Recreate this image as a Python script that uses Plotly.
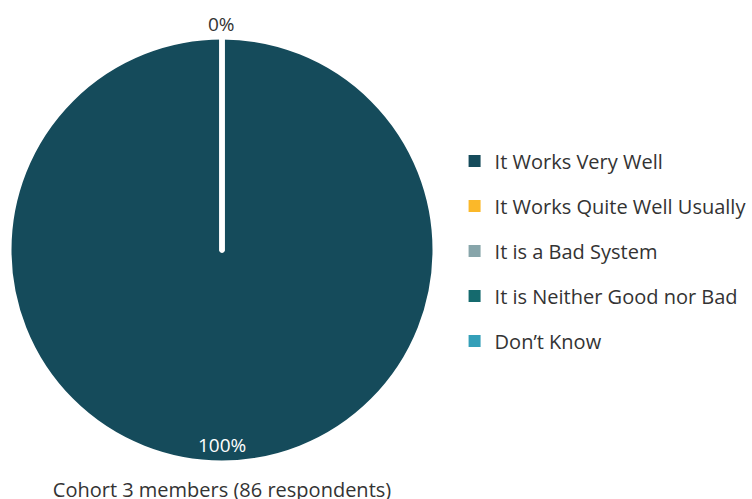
import plotly.graph_objects as go

labels = ["It Works Very Well", "It Works Quite Well Usually", "It is a Bad System",
          "It is Neither Good nor Bad", "Don’t Know"]
values = [86, 0, 0, 0, 0]
colors = ["#154B5B", "#FBB829", "#87A5AA", "#156A6E", "#349FB8"]
title_text = "Cohort 3 members (86 respondents)"

FONT = "Open Sans"
total = sum(values)
pcts = [f"{round(v / total * 100)}%" for v in values]

dom_x = [8/752, 436/752]
dom_y = [36/499, 462/499]
cx = (dom_x[0] + dom_x[1]) / 2

fig = go.Figure()
fig.add_trace(go.Pie(
    labels=labels, values=values, sort=False, direction="clockwise", rotation=0,
    marker=dict(colors=colors, line=dict(color="white", width=5)),
    textinfo="none",
    domain=dict(x=dom_x, y=dom_y),
    showlegend=False,
))
for lab, col in zip(labels, colors):
    fig.add_trace(go.Scatter(
        x=[None], y=[None], mode="markers", name=lab, legendgroup=lab,
        marker=dict(symbol="square", size=12, color=col),
    ))

annotations = [
    # label of the zero slices (outside, at the top)
    dict(text=pcts[1], x=cx, y=dom_y[1], xref="paper", yref="paper",
         xanchor="center", yanchor="bottom", yshift=-2, showarrow=False,
         font=dict(family=FONT, size=19, color="#333333")),
    # label of the full slice (inside, near the bottom)
    dict(text=pcts[0], x=cx, y=dom_y[0], xref="paper", yref="paper",
         xanchor="center", yanchor="bottom", yshift=3, showarrow=False,
         font=dict(family=FONT, size=19, color="white")),
]

fig.update_layout(
    width=752, height=499, margin=dict(l=0, r=0, t=0, b=0),
    paper_bgcolor="white", plot_bgcolor="white",
    font=dict(family=FONT, size=20, color="#333333"),
    xaxis=dict(visible=False), yaxis=dict(visible=False),
    title=dict(text=title_text, x=cx, xref="paper", xanchor="center",
               y=1 - 490/499, yref="container", yanchor="middle",
               font=dict(family=FONT, size=20, color="#333333")),
    legend=dict(x=0.6045, y=0.497, xanchor="left", yanchor="middle",
                tracegroupgap=16, font=dict(family=FONT, size=20, color="#333333"),
                itemsizing="constant"),
    annotations=annotations,
)
fig.write_html("out.html", config={"displayModeBar": False},
               post_script="document.body.style.margin='0';")
